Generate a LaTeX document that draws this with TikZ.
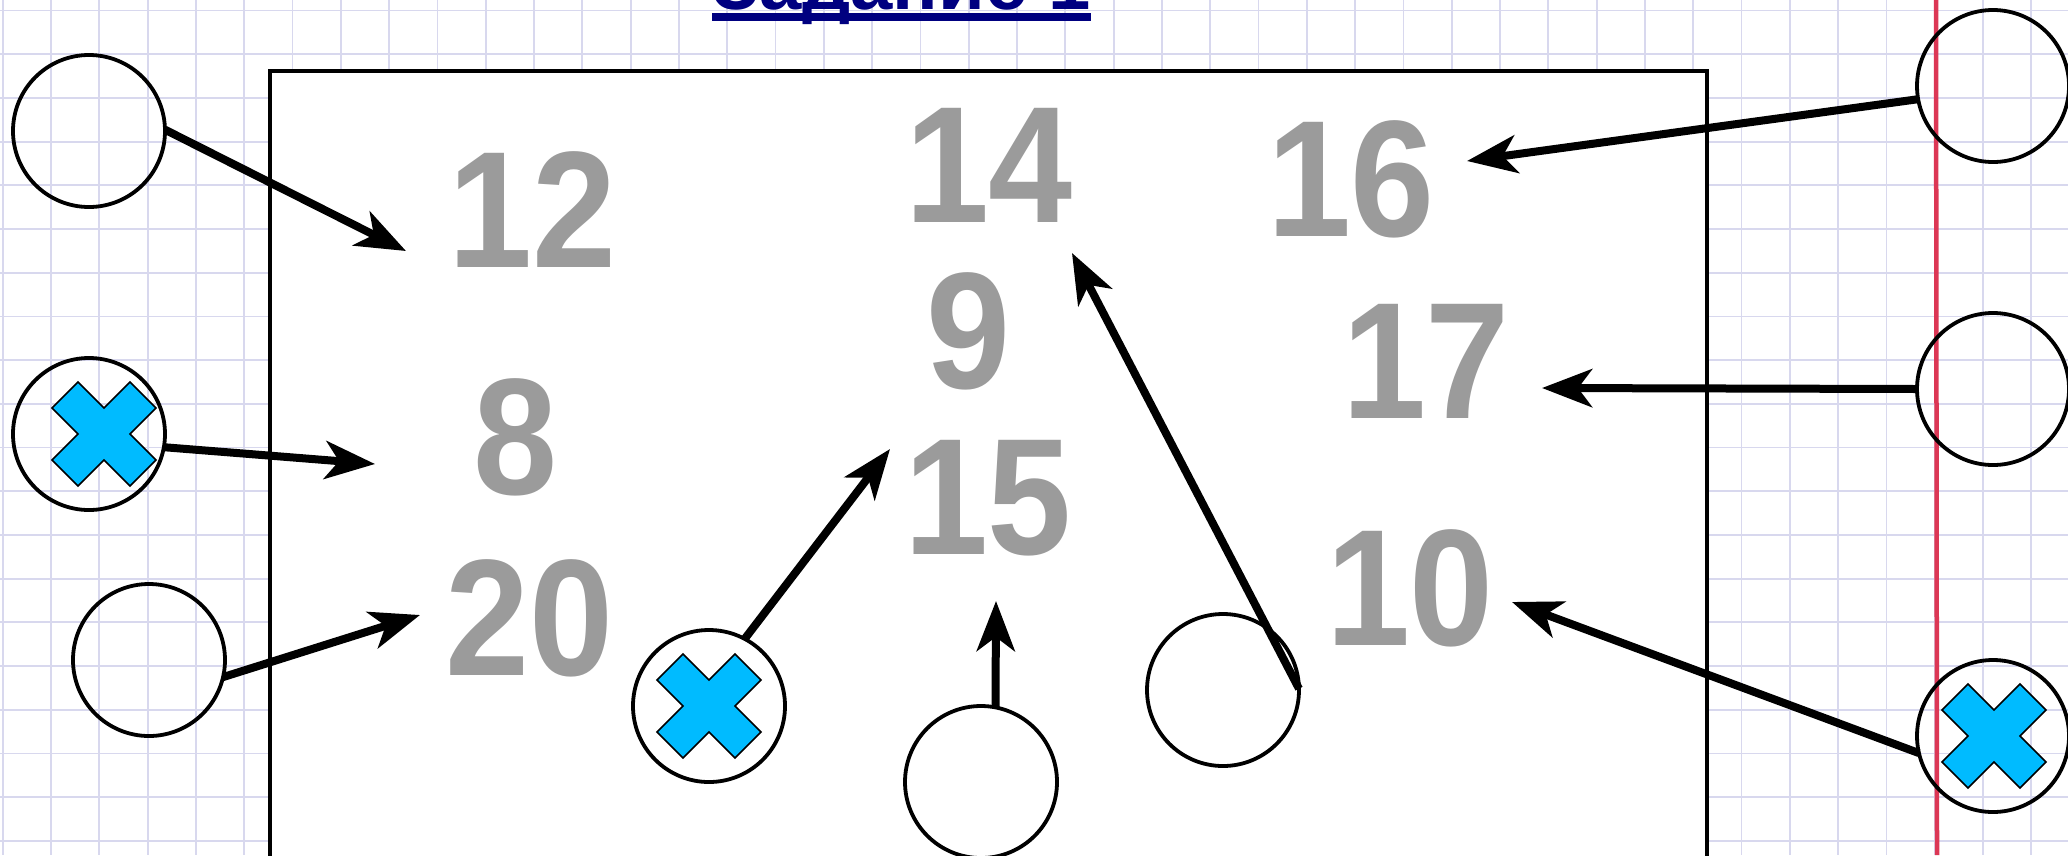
\documentclass[tikz,border=0pt]{standalone}
\usepackage{fontspec}
\setmainfont{Liberation Sans}
\newfontfamily\numfont[FakeStretch=0.91]{Liberation Sans Bold}
\usetikzlibrary{arrows.meta}
\definecolor{gridc}{RGB}{216,216,238}
\definecolor{redline}{RGB}{220,55,85}
\definecolor{numgray}{RGB}{155,155,155}
\definecolor{xblue}{RGB}{0,187,255}
\definecolor{titleblue}{RGB}{0,0,128}
\tikzset{
  gridline/.style={draw=gridc, line width=1.8pt},
  ring/.style={circle, draw=black, line width=3.8pt, minimum size=152pt, inner sep=0pt, outer sep=0pt},
  num/.style={font=\numfont\fontsize{166}{166}\selectfont, text=numgray, inner sep=0pt, anchor=base},
  arr/.style={line width=8pt, -{Stealth[length=50pt,width=38pt,inset=14pt]}},
  xmark/.pic={\draw[fill=xblue, draw=black, line width=1.5pt]
    (0,26)--(26,52)--(52,26)--(26,0)--(52,-26)--(26,-52)--(0,-26)--(-26,-52)--(-52,-26)--(-26,0)--(-52,26)--(-26,52)--cycle;}
}
\begin{document}
\begin{tikzpicture}[x=1pt,y=-1pt]
\useasboundingbox (0,0) rectangle (2068,855);
\fill[white] (0,0) rectangle (2068,855);
% grid paper
\foreach \i in {0,...,42} \draw[gridline] ({2.7+48.3*\i},0) -- ({2.7+48.3*\i},855);
\foreach \j in {0,...,19} \draw[gridline] (0,{10.5+43.7*\j}) -- (2068,{10.5+43.7*\j});
\draw[draw=redline, line width=4.5pt] (1936,0) -- (1937,855);
% board
\draw[fill=white, line width=4pt] (270,70.5) rectangle (1707,900);
% title
\node[anchor=base west, inner sep=0pt, font=\fontsize{76}{76}\selectfont\bfseries, text=titleblue] (title) at (712,9) {Задание 1};
\fill[titleblue] ([yshift=-4pt]title.base west) rectangle ([yshift=-12pt]title.base east);
% numbers
\node[num] (n12) at (533,267) {12};
\node[num] (n14) at (989,222) {14};
\node[num] (n16) at (1351,236) {16};
\node[num] (n9)  at (968,388) {9};
\node[num] (n17) at (1426,418) {17};
\node[num] (n8)  at (515,494) {8};
\node[num] (n15) at (988,554) {15};
\node[num] (n10) at (1410,645) {10};
\node[num] (n20) at (530,675) {20};
% circles
\node[ring] (c1) at (89,131) {};
\node[ring] (c2) at (89,434) {};
\node[ring] (c3) at (149,660) {};
\node[ring] (c4) at (709,706) {};
\node[ring] (c5) at (981,782) {};
\node[ring] (c6) at (1223,690) {};
\node[ring] (c7) at (1993,86) {};
\node[ring] (c8) at (1993,389) {};
\node[ring] (c9) at (1993,736) {};
% crosses
\pic at (104,434) {xmark};
\pic at (709,706) {xmark};
\pic at (1994,736) {xmark};
% arrow tips
\coordinate (t1) at (406,251);
\coordinate (t2) at (375,464);
\coordinate (t3) at (420,615);
\coordinate (t4) at (890,449);
\coordinate (t5) at (996,601);
\coordinate (t6) at (1072,253);
\coordinate (t7) at (1467,161);
\coordinate (t8) at (1542,388);
\coordinate (t9) at (1512,602);
% arrows
\draw[arr] (c1.1) -- (t1);
\draw[arr] (c2.-10) -- (t2);
\draw[arr] (c3.-13) -- (t3);
\draw[arr] (c4.62) -- (t4);
\draw[arr] (c5.79) -- (t5);
\draw[arr] (c6.1) -- (t6);
\draw[arr] (c7.190) -- (t7);
\draw[arr] (c8.180) -- (t8);
\draw[arr] (c9.193) -- (t9);
\end{tikzpicture}
\end{document}
